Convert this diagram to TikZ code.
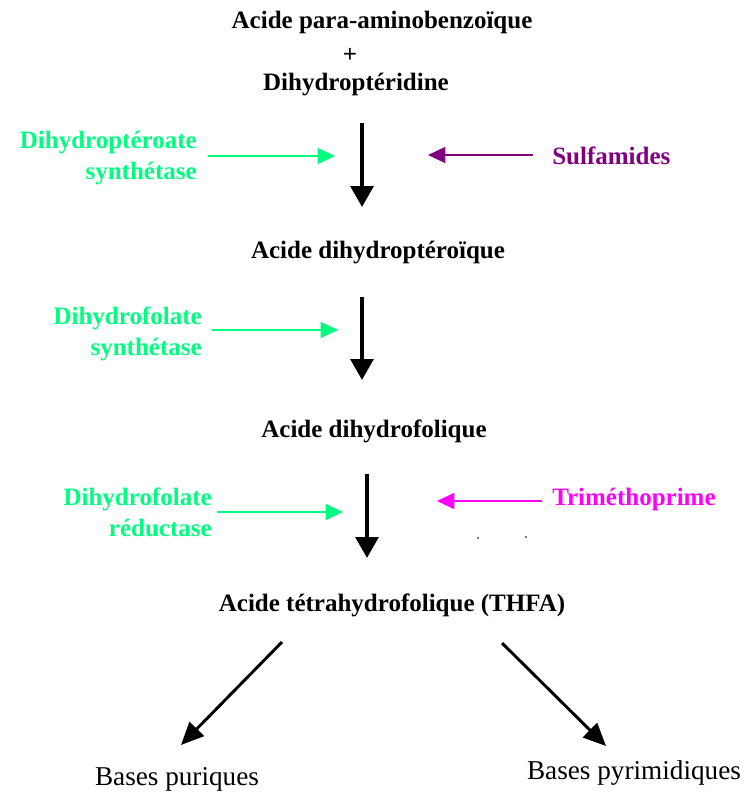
\documentclass[tikz,border=0pt]{standalone}
\usepackage{fontspec}
\setmainfont{Liberation Serif}
\usetikzlibrary{arrows.meta}
\definecolor{enzgreen}{HTML}{00FF80}
\definecolor{sulfpurple}{HTML}{800080}
\definecolor{trimag}{HTML}{FF00FF}
\begin{document}
\begin{tikzpicture}[x=0.75pt,y=-0.75pt,
  lbl/.style={inner sep=0pt, font=\fontsize{18.75}{23.25}\selectfont\bfseries},
  basetxt/.style={inner sep=0pt, font=\fontsize{20.4}{24}\selectfont},
  mainarrow/.style={line width=3pt, -{Triangle[length=15.75pt,width=17pt]}},
  diagarrow/.style={line width=2.2pt, -{Triangle[length=17pt,width=15pt]}},
  enzarrow/.style={line width=1.2pt, -{Triangle[length=13pt,width=12pt]}},
]
\path[use as bounding box] (0,0) rectangle (747,794);

% main pathway texts
\node[lbl] (paba) at (382,22) {Acide para-aminobenzoïque};
\node[lbl] (plus) at (350,55) {+};
\node[lbl] (dhpt) at (356,85) {Dihydroptéridine};
\node[lbl] (dhpa) at (378,253) {Acide dihydroptéroïque};
\node[lbl] (dhf) at (374,431) {Acide dihydrofolique};
\node[lbl] (thfa) at (392,605) {Acide tétrahydrofolique (THFA)};
\node[basetxt] (pur) at (177,779) {Bases puriques};
\node[basetxt] (pyr) at (634,773) {Bases pyrimidiques};

% enzymes
\node[lbl, text=enzgreen, align=right, anchor=east] (e1) at (197,158) {Dihydroptéroate\\synthétase};
\node[lbl, text=enzgreen, align=right, anchor=east] (e2) at (202,334) {Dihydrofolate\\synthétase};
\node[lbl, text=enzgreen, align=right, anchor=east] (e3) at (212,512) {Dihydrofolate\\réductase};

% inhibitors
\node[lbl, text=sulfpurple, anchor=west] (sulf) at (552,156) {Sulfamides};
\node[lbl, text=trimag, anchor=west] (tmp) at (552,499) {Triméthoprime};

% arrow end points
\coordinate (a1s) at (362,123); \coordinate (a1e) at (362,207);
\coordinate (a2s) at (362,297); \coordinate (a2e) at (362,380);
\coordinate (a3s) at (367,474); \coordinate (a3e) at (367,558);
\coordinate (d1s) at (282,642); \coordinate (d1e) at (181,745);
\coordinate (d2s) at (502,643); \coordinate (d2e) at (606,746);
\coordinate (g1s) at (208,156); \coordinate (g1e) at (335,156);
\coordinate (g2s) at (212,330); \coordinate (g2e) at (338,330);
\coordinate (g3s) at (217,512); \coordinate (g3e) at (343,512);
\coordinate (p1s) at (533,155); \coordinate (p1e) at (428,155);
\coordinate (m1s) at (542,501); \coordinate (m1e) at (437,501);

% main arrows
\draw[mainarrow] (a1s) -- (a1e);
\draw[mainarrow] (a2s) -- (a2e);
\draw[mainarrow] (a3s) -- (a3e);
\draw[diagarrow] (d1s) -- (d1e);
\draw[diagarrow] (d2s) -- (d2e);

% enzyme arrows
\draw[enzarrow, enzgreen] (g1s) -- (g1e);
\draw[enzarrow, enzgreen] (g2s) -- (g2e);
\draw[enzarrow, enzgreen] (g3s) -- (g3e);

% inhibitor arrows
\draw[enzarrow, sulfpurple] (p1s) -- (p1e);
\draw[enzarrow, trimag] (m1s) -- (m1e);

% specks
\fill (478,538) circle (0.9);
\fill (526,537) circle (0.9);
\end{tikzpicture}
\end{document}
